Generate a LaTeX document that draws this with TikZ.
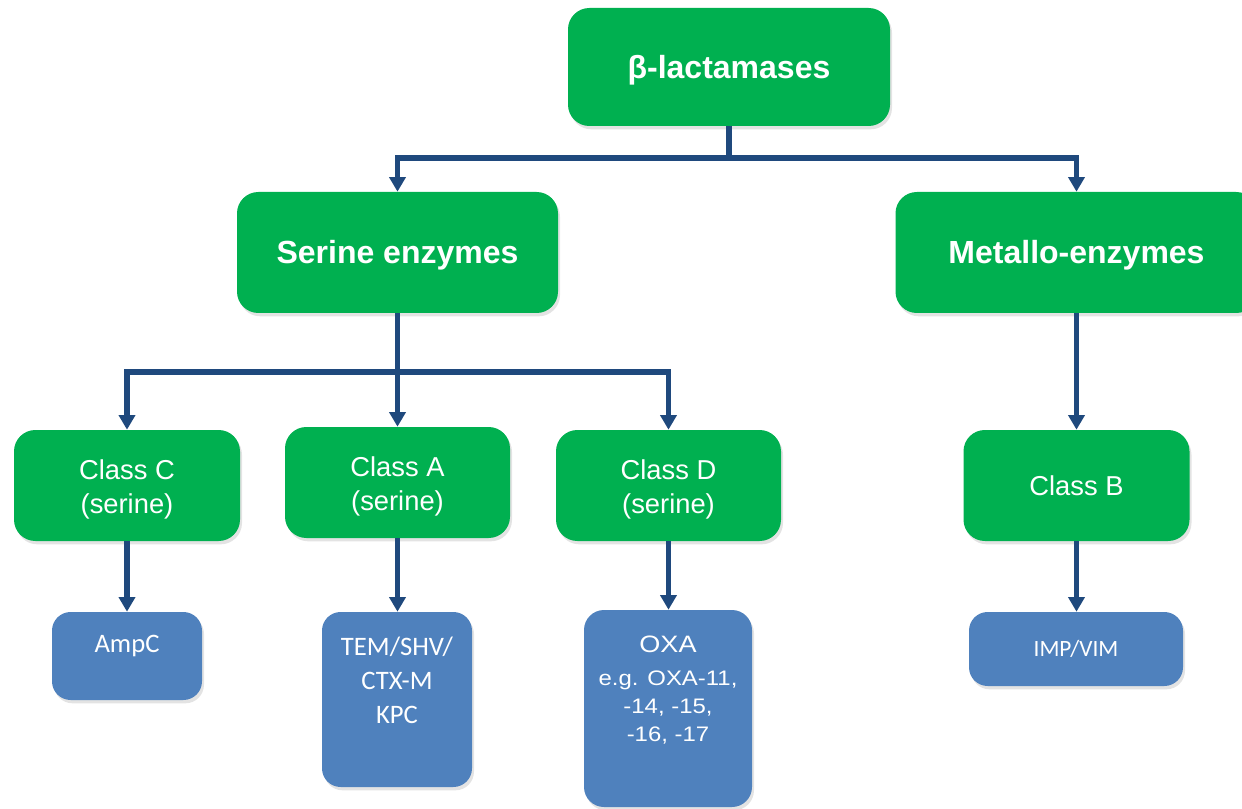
\documentclass[tikz,border=0pt]{standalone}
\usepackage{fontspec}
\setmainfont{Liberation Sans}
\newfontfamily\calfont{Carlito}
\newfontfamily\oxafont{Liberation Sans}[FakeStretch=1.14]
\usetikzlibrary{arrows.meta,shadows}
\definecolor{grn}{HTML}{00B050}
\definecolor{blu}{HTML}{4F81BD}
\definecolor{lin}{HTML}{1F497D}
\begin{document}
\begin{tikzpicture}[x=0.75pt,y=-0.75pt,
  sz/.style 2 args={minimum width=#1*0.75pt, minimum height=#2*0.75pt},
  shad/.style={drop shadow={opacity=0.22,shadow xshift=1.5pt,shadow yshift=-2.5pt}},
  gbox/.style={fill=grn, rounded corners=16pt, text=white, align=center, inner sep=0pt, shad},
  bbox/.style={fill=blu, rounded corners=14pt, text=white, align=center, inner sep=0pt, shad},
  title/.style={font=\bfseries\fontsize{24}{28}\selectfont, text height=17.2pt, text depth=0pt},
  classtxt/.style={text=white, align=center, inner sep=0pt, anchor=north, font=\fontsize{20.5}{25.5}\selectfont},
  bluetxt/.style={text=white, align=center, inner sep=0pt, font=\calfont\fontsize{20}{25.5}\selectfont},
  conn/.style={draw=lin, line width=4pt, -{Triangle[width=12pt,length=11pt]}}
]
\useasboundingbox (0,0) rectangle (1242,809);
\clip (0,0) rectangle (1242,809);

% top level
\node[gbox, title, sz={322}{118}] (beta) at (729,67) {β-lactamases};
\node[gbox, title, sz={321}{121}] (ser) at (397.5,252.5) {Serine enzymes};
\node[gbox, title, sz={362}{121}] (met) at (1076.5,252.5) {Metallo-enzymes};

% classes
\node[gbox, sz={226}{111}] (cC) at (127,485.5) {};
\node[gbox, sz={225}{111}] (cA) at (397.5,482.5) {};
\node[gbox, sz={225}{111}] (cD) at (668.5,485.5) {};
\node[gbox, sz={226}{111}, font=\fontsize{20.5}{25.5}\selectfont, text height=14.7pt, text depth=0pt] (cB) at (1076.5,485.5) {Class B};
\node[classtxt] (tC) at (127,459) {Class C\\(serine)};
\node[classtxt] (tA) at (397.5,456) {Class A\\(serine)};
\node[classtxt] (tD) at (668.5,459) {Class D\\(serine)};

% leaves
\node[bbox, sz={150}{88}] (amp) at (127,656) {};
\node[bluetxt, anchor=base] (tamp) at (127,652) {AmpC};
\node[bbox, sz={150}{175}] (tem) at (397,699.5) {};
\node[bluetxt, anchor=north] (ttem) at (397,637) {TEM/SHV/\\CTX-M\\KPC};
\node[bbox, sz={168}{197}, rounded corners=15pt] (oxa) at (668,708.5) {};
\node[text=white, align=center, inner sep=0pt, anchor=north, font=\oxafont\fontsize{15.75}{21}\selectfont] (toxa) at (668,636)
  {{\fontsize{17.8}{21}\selectfont OXA}\\[3.75pt]e.g. OXA-11,\\-14, -15,\\-16, -17};
\node[bbox, sz={214}{74}, font=\calfont\fontsize{17.5}{21}\selectfont, text height=11.3pt, text depth=0pt] (imp) at (1076,649) {IMP/VIM};

% connectors
\coordinate (b1) at (729,158);
\coordinate (b2) at (397.5,372);
\draw[conn] (beta.south) -- (b1) -| (ser.north);
\draw[conn] (b1) -| (met.north);
\draw[conn] (ser.south) -- (cA.north);
\draw[conn] (b2) -| (cC.north);
\draw[conn] (b2) -| (cD.north);
\draw[conn] (met.south) -- (cB.north);
\draw[conn] (cC.south) -- (cC.south |- amp.north);
\draw[conn] (cA.south) -- (cA.south |- tem.north);
\draw[conn] (cD.south) -- (cD.south |- oxa.north);
\draw[conn] (cB.south) -- (cB.south |- imp.north);
\end{tikzpicture}
\end{document}
